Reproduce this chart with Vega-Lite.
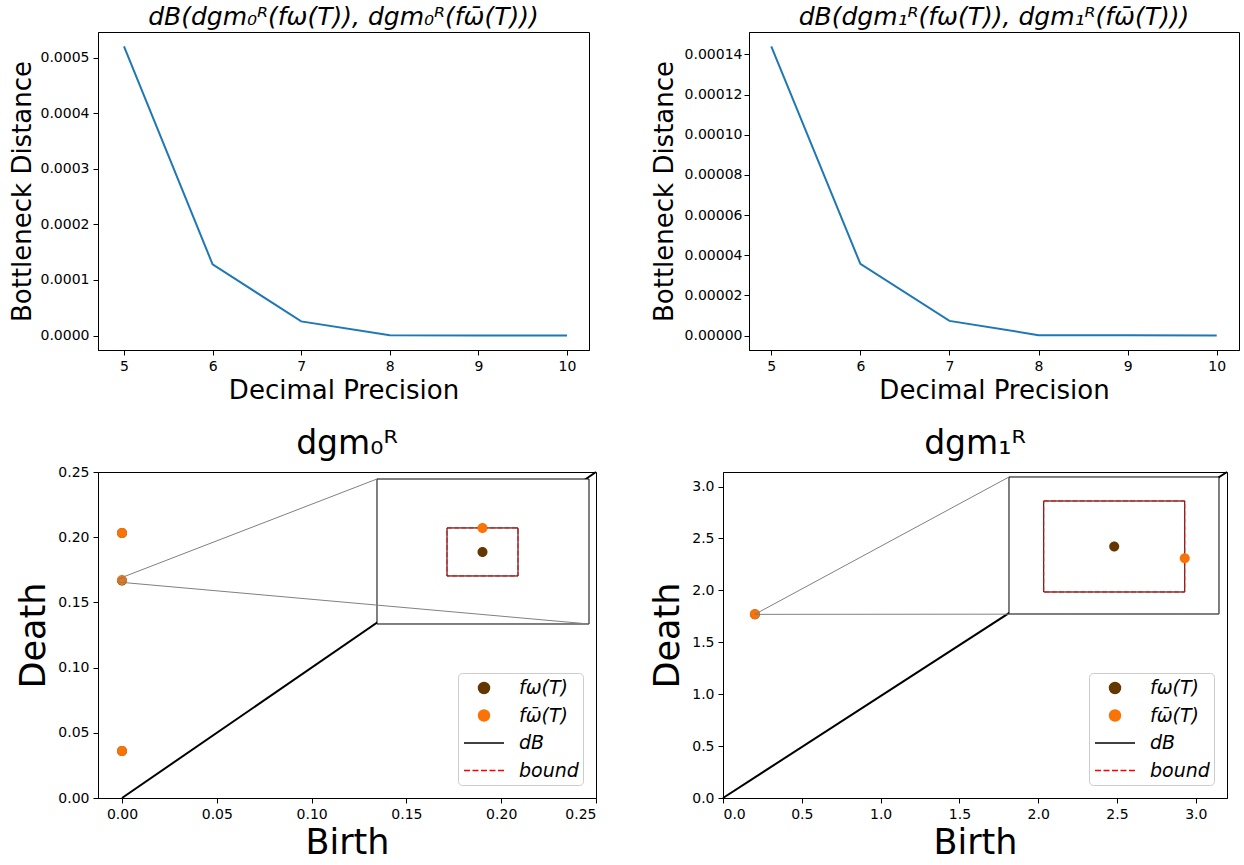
{
  "$schema": "https://vega.github.io/schema/vega-lite/v6.json",
  "background": "white",
  "padding": {"left": 8, "top": 4, "right": 0, "bottom": 0},
  "config": {
    "font": "DejaVu Sans",
    "view": {"stroke": "black", "strokeWidth": 1},
    "axis": {"grid": false, "domainColor": "black", "domainWidth": 1, "tickColor": "black", "tickWidth": 1, "tickSize": 5, "labelFontSize": 14, "labelColor": "black", "labelPadding": 4, "titleColor": "black", "titleFontWeight": "normal", "labelFont": "DejaVu Sans", "titleFont": "DejaVu Sans"},
    "title": {"fontWeight": "normal", "color": "black", "font": "DejaVu Sans"},
    "legend": {
      "orient": "bottom-right", "offset": 13,
      "padding": 4, "rowPadding": 6.5, "symbolSize": 400, "symbolOffset": 11, "labelOffset": 24, "symbolStrokeWidth": 1.5,
      "labelFontSize": 19, "labelColor": "black", "labelFont": "DejaVu Sans", "labelFontStyle": "italic",
      "fillColor": "rgba(255,255,255,0.8)", "strokeColor": "#cccccc", "cornerRadius": 4
    }
  },
  "datasets": {
    "dist0": [
      {"precision": 5, "distance": 0.00052},
      {"precision": 6, "distance": 0.000128},
      {"precision": 7, "distance": 0.0000255},
      {"precision": 8, "distance": 0.0000006},
      {"precision": 9, "distance": 0.0000001},
      {"precision": 10, "distance": 0.0}
    ],
    "dist1": [
      {"precision": 5, "distance": 0.000144},
      {"precision": 6, "distance": 0.0000357},
      {"precision": 7, "distance": 0.0000073},
      {"precision": 8, "distance": 0.0000002},
      {"precision": 9, "distance": 0.0000001},
      {"precision": 10, "distance": 0.0}
    ],
    "pts0": [
      {"birth": 0, "death": 0.2032, "series": "fω(T)"},
      {"birth": 0, "death": 0.1667, "series": "fω(T)"},
      {"birth": 0, "death": 0.036, "series": "fω(T)"},
      {"birth": 0, "death": 0.2032, "series": "fω̄(T)"},
      {"birth": 0, "death": 0.16722, "series": "fω̄(T)"},
      {"birth": 0, "death": 0.036, "series": "fω̄(T)"}
    ],
    "diag0": [{"x": 0, "y": 0, "x2": 0.25, "y2": 0.25}],
    "frame0": [{"x": 0.13449, "x2": 0.24631, "y": 0.13344, "y2": 0.24463}],
    "region0": [{"x": -0.0015454, "x2": 0.00156, "y": 0.16514, "y2": 0.16828}],
    "conn0": [
      {"x": -0.0015454, "y": 0.16828, "x2": 0.13449, "y2": 0.24463},
      {"x": 0.00156, "y": 0.16514, "x2": 0.24631, "y2": 0.13344}
    ],
    "box0": [
      {"series": "dB", "x": -0.00052, "x2": 0.00052, "y": 0.16618, "y2": 0.16722},
      {"series": "bound", "x": -0.00052, "x2": 0.00052, "y": 0.16618, "y2": 0.16722}
    ],
    "ipts0": [
      {"birth": 0, "death": 0.1667, "series": "fω(T)"},
      {"birth": 0, "death": 0.16722, "series": "fω̄(T)"}
    ],
    "pts1": [
      {"birth": 0.2025, "death": 1.769, "series": "fω(T)"},
      {"birth": 0.202646, "death": 1.768962, "series": "fω̄(T)"}
    ],
    "diag1": [{"x": 0, "y": 0, "x2": 3.198, "y2": 3.14}],
    "frame1": [{"x": 1.8147, "x2": 3.1472, "y": 1.7723, "y2": 3.0919}],
    "region1": [{"x": 0.202282, "x2": 0.202717, "y": 1.768783, "y2": 1.769223}],
    "conn1": [
      {"x": 0.202282, "y": 1.769223, "x2": 1.8147, "y2": 3.0919},
      {"x": 0.202717, "y": 1.768783, "x2": 3.1472, "y2": 1.7723}
    ],
    "box1": [
      {"series": "dB", "x": 0.202354, "x2": 0.202646, "y": 1.768854, "y2": 1.769146},
      {"series": "bound", "x": 0.202354, "x2": 0.202646, "y": 1.768854, "y2": 1.769146}
    ],
    "ipts1": [
      {"birth": 0.2025, "death": 1.769, "series": "fω(T)"},
      {"birth": 0.202646, "death": 1.768962, "series": "fω̄(T)"}
    ]
  },
  "resolve": {"scale": {"color": "independent", "shape": "independent"}, "legend": {"color": "independent", "shape": "independent"}},
  "columns": 2,
  "align": "none",
  "spacing": {"row": 23, "column": 52},
  "concat": [
    {
      "width": 491, "height": 318,
      "title": {"text": "dB(dgm₀ᴿ(fω(T)), dgm₀ᴿ(fω̄(T)))", "fontSize": 25, "fontStyle": "italic", "frame": "group", "offset": 2},
      "data": {"name": "dist0"},
      "mark": {"type": "line", "color": "#1f77b4", "strokeWidth": 2},
      "encoding": {
        "x": {"field": "precision", "type": "quantitative", "scale": {"domain": [4.7065, 10.2483], "nice": false, "zero": false}, "axis": {"values": [5, 6, 7, 8, 9, 10], "format": "d", "title": "Decimal Precision", "titleFontSize": 26, "titlePadding": 4}},
        "y": {"field": "distance", "type": "quantitative", "scale": {"domain": [-0.000026, 0.000546], "nice": false, "zero": false}, "axis": {"values": [0, 0.0001, 0.0002, 0.0003, 0.0004, 0.0005], "format": ".4f", "title": "Bottleneck Distance", "titleFontSize": 26, "titlePadding": 5}}
      }
    },
    {
      "width": 490, "height": 318,
      "title": {"text": "dB(dgm₁ᴿ(fω(T)), dgm₁ᴿ(fω̄(T)))", "fontSize": 25, "fontStyle": "italic", "frame": "group", "offset": 2},
      "data": {"name": "dist1"},
      "mark": {"type": "line", "color": "#1f77b4", "strokeWidth": 2},
      "encoding": {
        "x": {"field": "precision", "type": "quantitative", "scale": {"domain": [4.75, 10.25], "nice": false, "zero": false}, "axis": {"values": [5, 6, 7, 8, 9, 10], "format": "d", "title": "Decimal Precision", "titleFontSize": 26, "titlePadding": 4}},
        "y": {"field": "distance", "type": "quantitative", "scale": {"domain": [-0.0000072, 0.0001512], "nice": false, "zero": false}, "axis": {"values": [0, 0.00002, 0.00004, 0.00006, 0.00008, 0.0001, 0.00012, 0.00014], "format": ".5f", "title": "Bottleneck Distance", "titleFontSize": 26, "titlePadding": 7, "labelPadding": 2}}
      }
    },
    {
      "width": 498, "height": 326,
      "title": {"text": "dgm₀ᴿ", "fontSize": 33, "frame": "group", "offset": 4},
      "resolve": {"scale": {"x": "independent", "y": "independent"}},
      "layer": [
        {
          "encoding": {
            "x": {"type": "quantitative", "scale": {"domain": [-0.012658, 0.25], "nice": false, "zero": false}, "axis": {"values": [0, 0.05, 0.1, 0.15, 0.2, 0.25], "format": ".2f", "title": "Birth", "titleFontSize": 35, "titlePadding": 4}},
            "y": {"type": "quantitative", "scale": {"domain": [0, 0.25], "nice": false, "zero": false}, "axis": {"values": [0, 0.05, 0.1, 0.15, 0.2, 0.25], "format": ".2f", "title": "Death", "titleFontSize": 35, "titlePadding": 6}}
          },
          "layer": [
            {
              "data": {"name": "diag0"},
              "mark": {"type": "rule", "color": "black", "strokeWidth": 2},
              "encoding": {"x": {"field": "x"}, "y": {"field": "y"}, "x2": {"field": "x2"}, "y2": {"field": "y2"}}
            },
            {
              "data": {"name": "pts0"},
              "mark": {"type": "point", "filled": true, "size": 330, "opacity": 1},
              "encoding": {
                "x": {"field": "birth"}, "y": {"field": "death"},
                "color": {"field": "series", "type": "nominal", "scale": {"domain": ["fω(T)", "fω̄(T)", "dB", "bound"], "range": ["#653700", "#f97306", "black", "red"]}, "legend": {"title": null}},
                "shape": {"field": "series", "type": "nominal", "scale": {"domain": ["fω(T)", "fω̄(T)", "dB", "bound"], "range": ["M-0.55,0A0.55,0.55,0,1,1,0.55,0A0.55,0.55,0,1,1,-0.55,0Z", "M-0.55,0A0.55,0.55,0,1,1,0.55,0A0.55,0.55,0,1,1,-0.55,0Z", "M-2,0L2,0", "M-2,0L-1.4,0M-1.15,0L-0.55,0M-0.3,0L0.3,0M0.55,0L1.15,0M1.4,0L2,0"]}, "legend": {"title": null}}
              }
            },
            {
              "data": {"name": "frame0"},
              "mark": {"type": "rect", "fill": "white", "stroke": "black", "strokeWidth": 1},
              "encoding": {"x": {"field": "x"}, "x2": {"field": "x2"}, "y": {"field": "y"}, "y2": {"field": "y2"}}
            },
            {
              "data": {"name": "region0"},
              "mark": {"type": "rect", "fill": null, "filled": false, "stroke": "#808080", "strokeWidth": 1},
              "encoding": {"x": {"field": "x"}, "x2": {"field": "x2"}, "y": {"field": "y"}, "y2": {"field": "y2"}}
            },
            {
              "data": {"name": "conn0"},
              "mark": {"type": "rule", "color": "#808080", "strokeWidth": 1},
              "encoding": {"x": {"field": "x"}, "y": {"field": "y"}, "x2": {"field": "x2"}, "y2": {"field": "y2"}}
            }
          ]
        },
        {
          "encoding": {
            "x": {"type": "quantitative", "scale": {"domain": [-0.0056322, 0.0016625], "nice": false, "zero": false}, "axis": null},
            "y": {"type": "quantitative", "scale": {"domain": [0.16137, 0.168432], "nice": false, "zero": false}, "axis": null}
          },
          "layer": [
            {
              "data": {"name": "box0"},
              "transform": [{"filter": "datum.series === 'dB'"}],
              "mark": {"type": "rect", "filled": false, "strokeWidth": 1},
              "encoding": {
                "x": {"field": "x"}, "x2": {"field": "x2"}, "y": {"field": "y"}, "y2": {"field": "y2"},
                "color": {"field": "series", "type": "nominal", "scale": {"domain": ["fω(T)", "fω̄(T)", "dB", "bound"], "range": ["#653700", "#f97306", "black", "red"]}, "legend": {"title": null}}
              }
            },
            {
              "data": {"name": "box0"},
              "transform": [{"filter": "datum.series === 'bound'"}],
              "mark": {"type": "rect", "filled": false, "strokeWidth": 1, "strokeDash": [5, 2.2]},
              "encoding": {
                "x": {"field": "x"}, "x2": {"field": "x2"}, "y": {"field": "y"}, "y2": {"field": "y2"},
                "color": {"field": "series", "type": "nominal", "scale": {"domain": ["fω(T)", "fω̄(T)", "dB", "bound"], "range": ["#653700", "#f97306", "black", "red"]}, "legend": {"title": null}}
              }
            },
            {
              "data": {"name": "ipts0"},
              "mark": {"type": "point", "filled": true, "size": 330, "opacity": 1},
              "encoding": {
                "x": {"field": "birth"}, "y": {"field": "death"},
                "color": {"field": "series", "type": "nominal", "scale": {"domain": ["fω(T)", "fω̄(T)", "dB", "bound"], "range": ["#653700", "#f97306", "black", "red"]}, "legend": {"title": null}},
                "shape": {"field": "series", "type": "nominal", "scale": {"domain": ["fω(T)", "fω̄(T)", "dB", "bound"], "range": ["M-0.55,0A0.55,0.55,0,1,1,0.55,0A0.55,0.55,0,1,1,-0.55,0Z", "M-0.55,0A0.55,0.55,0,1,1,0.55,0A0.55,0.55,0,1,1,-0.55,0Z", "M-2,0L2,0", "M-2,0L-1.4,0M-1.15,0L-0.55,0M-0.3,0L0.3,0M0.55,0L1.15,0M1.4,0L2,0"]}, "legend": {"title": null}}
              }
            }
          ]
        }
      ]
    },
    {
      "width": 504, "height": 326,
      "title": {"text": "dgm₁ᴿ", "fontSize": 33, "frame": "group", "offset": 10},
      "resolve": {"scale": {"x": "independent", "y": "independent"}},
      "layer": [
        {
          "encoding": {
            "x": {"type": "quantitative", "scale": {"domain": [0, 3.198], "nice": false, "zero": false}, "axis": {"values": [0, 0.5, 1, 1.5, 2, 2.5, 3], "format": ".1f", "title": "Birth", "titleFontSize": 35, "titlePadding": 4}},
            "y": {"type": "quantitative", "scale": {"domain": [0, 3.14], "nice": false, "zero": false}, "axis": {"values": [0, 0.5, 1, 1.5, 2, 2.5, 3], "format": ".1f", "title": "Death", "titleFontSize": 35, "titlePadding": 6}}
          },
          "layer": [
            {
              "data": {"name": "diag1"},
              "mark": {"type": "rule", "color": "black", "strokeWidth": 2},
              "encoding": {"x": {"field": "x"}, "y": {"field": "y"}, "x2": {"field": "x2"}, "y2": {"field": "y2"}}
            },
            {
              "data": {"name": "pts1"},
              "mark": {"type": "point", "filled": true, "size": 330, "opacity": 1},
              "encoding": {
                "x": {"field": "birth"}, "y": {"field": "death"},
                "color": {"field": "series", "type": "nominal", "scale": {"domain": ["fω(T)", "fω̄(T)", "dB", "bound"], "range": ["#653700", "#f97306", "black", "red"]}, "legend": {"title": null}},
                "shape": {"field": "series", "type": "nominal", "scale": {"domain": ["fω(T)", "fω̄(T)", "dB", "bound"], "range": ["M-0.55,0A0.55,0.55,0,1,1,0.55,0A0.55,0.55,0,1,1,-0.55,0Z", "M-0.55,0A0.55,0.55,0,1,1,0.55,0A0.55,0.55,0,1,1,-0.55,0Z", "M-2,0L2,0", "M-2,0L-1.4,0M-1.15,0L-0.55,0M-0.3,0L0.3,0M0.55,0L1.15,0M1.4,0L2,0"]}, "legend": {"title": null}}
              }
            },
            {
              "data": {"name": "frame1"},
              "mark": {"type": "rect", "fill": "white", "stroke": "black", "strokeWidth": 1},
              "encoding": {"x": {"field": "x"}, "x2": {"field": "x2"}, "y": {"field": "y"}, "y2": {"field": "y2"}}
            },
            {
              "data": {"name": "region1"},
              "mark": {"type": "rect", "fill": null, "filled": false, "stroke": "#808080", "strokeWidth": 1},
              "encoding": {"x": {"field": "x"}, "x2": {"field": "x2"}, "y": {"field": "y"}, "y2": {"field": "y2"}}
            },
            {
              "data": {"name": "conn1"},
              "mark": {"type": "rule", "color": "#808080", "strokeWidth": 1},
              "encoding": {"x": {"field": "x"}, "y": {"field": "y"}, "x2": {"field": "x2"}, "y2": {"field": "y2"}}
            }
          ]
        },
        {
          "encoding": {
            "x": {"type": "quantitative", "scale": {"domain": [0.20169, 0.2027335], "nice": false, "zero": false}, "axis": null},
            "y": {"type": "quantitative", "scale": {"domain": [1.768193, 1.769239], "nice": false, "zero": false}, "axis": null}
          },
          "layer": [
            {
              "data": {"name": "box1"},
              "transform": [{"filter": "datum.series === 'dB'"}],
              "mark": {"type": "rect", "filled": false, "strokeWidth": 1},
              "encoding": {
                "x": {"field": "x"}, "x2": {"field": "x2"}, "y": {"field": "y"}, "y2": {"field": "y2"},
                "color": {"field": "series", "type": "nominal", "scale": {"domain": ["fω(T)", "fω̄(T)", "dB", "bound"], "range": ["#653700", "#f97306", "black", "red"]}, "legend": {"title": null}}
              }
            },
            {
              "data": {"name": "box1"},
              "transform": [{"filter": "datum.series === 'bound'"}],
              "mark": {"type": "rect", "filled": false, "strokeWidth": 1, "strokeDash": [5, 2.2]},
              "encoding": {
                "x": {"field": "x"}, "x2": {"field": "x2"}, "y": {"field": "y"}, "y2": {"field": "y2"},
                "color": {"field": "series", "type": "nominal", "scale": {"domain": ["fω(T)", "fω̄(T)", "dB", "bound"], "range": ["#653700", "#f97306", "black", "red"]}, "legend": {"title": null}}
              }
            },
            {
              "data": {"name": "ipts1"},
              "mark": {"type": "point", "filled": true, "size": 330, "opacity": 1},
              "encoding": {
                "x": {"field": "birth"}, "y": {"field": "death"},
                "color": {"field": "series", "type": "nominal", "scale": {"domain": ["fω(T)", "fω̄(T)", "dB", "bound"], "range": ["#653700", "#f97306", "black", "red"]}, "legend": {"title": null}},
                "shape": {"field": "series", "type": "nominal", "scale": {"domain": ["fω(T)", "fω̄(T)", "dB", "bound"], "range": ["M-0.55,0A0.55,0.55,0,1,1,0.55,0A0.55,0.55,0,1,1,-0.55,0Z", "M-0.55,0A0.55,0.55,0,1,1,0.55,0A0.55,0.55,0,1,1,-0.55,0Z", "M-2,0L2,0", "M-2,0L-1.4,0M-1.15,0L-0.55,0M-0.3,0L0.3,0M0.55,0L1.15,0M1.4,0L2,0"]}, "legend": {"title": null}}
              }
            }
          ]
        }
      ]
    }
  ]
}
